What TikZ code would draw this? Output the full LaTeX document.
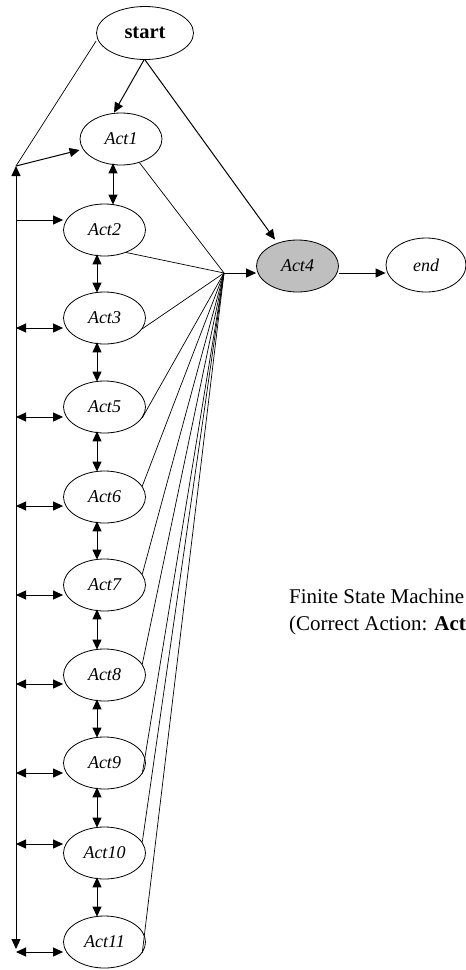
\documentclass[tikz,border=0pt]{standalone}
\usepackage{fontspec}
\setmainfont{Liberation Serif}
\usetikzlibrary{shapes.geometric,arrows.meta}
\begin{document}
\begin{tikzpicture}[x=1pt,y=-1pt,
  st/.style={draw,ellipse,inner sep=0pt,minimum width=82pt,minimum height=52pt,line width=0.8pt},
  lbl/.style={font=\fontsize{18}{20}\selectfont\itshape},
  conn/.style={line width=1pt},
  arr/.style={conn,-{Triangle[length=10pt,width=9pt]}},
  darr/.style={conn,{Triangle[length=10pt,width=9pt]}-{Triangle[length=10pt,width=9pt]}},
  thin line/.style={line width=0.7pt}]
\useasboundingbox (0,0) rectangle (466,970);
% nodes
\node[st,minimum width=97pt,minimum height=53pt,font=\fontsize{20.5}{22}\selectfont\bfseries] (start) at (145,33) {start};
\node[st,lbl] (a1) at (121,139) {Act1};
\node[st,lbl] (a2) at (104.5,230) {Act2};
\node[st,lbl] (a3) at (104.5,318) {Act3};
\node[st,lbl] (a5) at (104.5,407) {Act5};
\node[st,lbl] (a6) at (104.5,497) {Act6};
\node[st,lbl] (a7) at (104.5,585) {Act7};
\node[st,lbl] (a8) at (104.5,675) {Act8};
\node[st,lbl] (a9) at (104.5,763) {Act9};
\node[st,lbl] (a10) at (104.5,853) {Act10};
\node[st,lbl] (a11) at (104.5,942) {Act11};
\node[st,lbl,fill=black!25] (a4) at (297.5,266) {Act4};
\node[st,lbl,minimum width=80pt,minimum height=54pt] (end) at (426,265) {end};
% hub and left line
\coordinate (hub) at (224,273);
\coordinate (top) at (16,166);
\coordinate (bot) at (16,949);
\coordinate (L2) at (16,220);
\coordinate (L3) at (16,328);
\coordinate (L5) at (16,417);
\coordinate (L6) at (16,506);
\coordinate (L7) at (16,595);
\coordinate (L8) at (16,684);
\coordinate (L9) at (16,773);
\coordinate (L10) at (16,844);
\coordinate (L11) at (16,952);
% top connectors
\draw[arr] ([xshift=-1pt]start.south) -- (a1.north -| 114,0);
\draw[arr] (start.south) -- (a4.north -| 275,0);
\draw[thin line] ([yshift=-8pt]start.west) -- (top);
\draw[arr] (top) -- (a1.west |- 0,150);
\draw[darr] (top) -- (bot);
\draw[arr] (L2) -- (L2 -| a2.west);
\foreach \n in {3,5,6,7,8,9,10,11}{
  \draw[darr] (L\n) -- (L\n -| a\n.west);
}
% vertical double arrows
\coordinate (a1s) at ([xshift=-8pt,yshift=2pt]a1.south);
\draw[darr] (a1s) -- ([yshift=-1pt]a2.north -| a1s);
\draw[darr] ([xshift=-7.5pt,yshift=2pt]a2.south) -- ([xshift=-7.5pt,yshift=-1pt]a3.north);
\draw[darr] ([xshift=-7.5pt,yshift=2pt]a3.south) -- ([xshift=-7.5pt,yshift=-1pt]a5.north);
\draw[darr] ([xshift=-7.5pt,yshift=2pt]a5.south) -- ([xshift=-7.5pt,yshift=-1pt]a6.north);
\draw[darr] ([xshift=-7.5pt,yshift=2pt]a6.south) -- ([xshift=-7.5pt,yshift=-1pt]a7.north);
\draw[darr] ([xshift=-7.5pt,yshift=2pt]a7.south) -- ([xshift=-7.5pt,yshift=-1pt]a8.north);
\draw[darr] ([xshift=-7.5pt,yshift=2pt]a8.south) -- ([xshift=-7.5pt,yshift=-1pt]a9.north);
\draw[darr] ([xshift=-7.5pt,yshift=2pt]a9.south) -- ([xshift=-7.5pt,yshift=-1pt]a10.north);
\draw[darr] ([xshift=-7.5pt,yshift=2pt]a10.south) -- ([xshift=-7.5pt,yshift=-1pt]a11.north);
% lines to hub
\draw[thin line] (a1.-52) -- (hub);
\draw[thin line] (a2.-46) -- (hub);
\draw[thin line] (a3.-16) -- (hub);
\draw[thin line] (a5.-16) -- (hub);
\draw[thin line] (a6.16) -- (hub);
\draw[thin line] (a7.16) -- (hub);
\draw[thin line] (a8.16) -- (hub);
\draw[thin line] (a9.-16) -- (hub);
\draw[thin line] (a10.16) -- (hub);
\draw[thin line] (a11.-16) -- (hub);
\draw[arr] (hub) -- (hub -| a4.west);
\draw[arr] (a4.east |- 0,273) -- (end.west |- 0,273);
% caption
\node[anchor=base west,inner sep=0pt,font=\fontsize{21}{24}\selectfont] (cap1) at (289,603) {Finite State Machine};
\node[anchor=base west,inner sep=0pt,font=\fontsize{21}{24}\selectfont] (cap2) at (289,630) {(Correct Action: \textbf{Act}};
\end{tikzpicture}
\end{document}
